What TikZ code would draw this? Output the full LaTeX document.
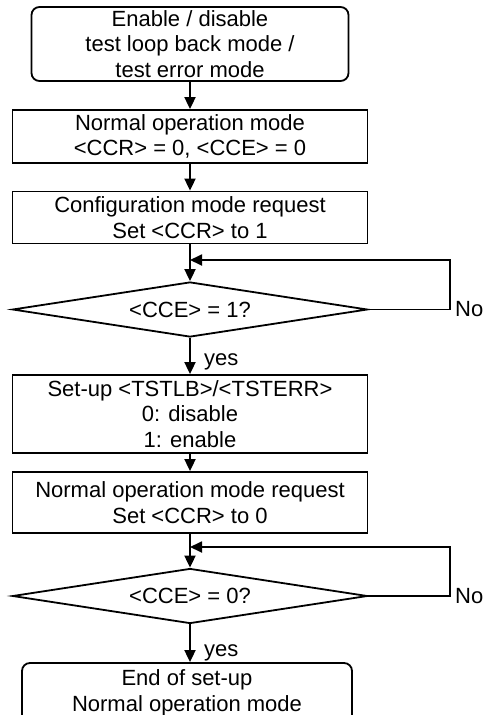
\documentclass[tikz,border=0pt]{standalone}
\usepackage{fontspec}
\setmainfont{Liberation Sans}
\usetikzlibrary{shapes.geometric,arrows.meta}
\begin{document}
\begin{tikzpicture}[x=1pt,y=-1pt,
  every node/.style={font=\fontsize{22}{25.5}\selectfont, align=center, inner sep=0pt},
  boxstyle/.style={draw, line width=1.8pt, minimum width=355pt},
  roundbox/.style={draw, line width=1.8pt, rounded corners=8pt},
  decision/.style={draw, line width=1.8pt, diamond, aspect=6.45, minimum width=355pt, minimum height=55pt},
  flow/.style={line width=1.8pt, -{Triangle[length=12pt,width=11pt]}}]
\useasboundingbox (0,0) rectangle (491,715);
\node[roundbox, minimum width=317pt, minimum height=74pt] (b1) at (190,44) {Enable / disable\\test loop back mode /\\test error mode};
\node[boxstyle, minimum height=53pt] (b2) at (190,136.5) {Normal operation mode\\<CCR> = 0, <CCE> = 0};
\node[boxstyle, minimum height=52pt] (b3) at (190,217.5) {Configuration mode request\\Set <CCR> to 1};
\node[decision] (d1) at (190,309.5) {<CCE> = 1?};
\node[boxstyle, minimum height=78pt] (b4) at (190,414) {Set-up <TSTLB>/<TSTERR>\\0: disable\\1: enable};
\node[boxstyle, minimum height=61pt] (b5) at (190,502.5) {Normal operation mode request\\Set <CCR> to 0};
\node[decision] (d2) at (190,596) {<CCE> = 0?};
\node[roundbox, minimum width=330pt, minimum height=60pt] (b6) at (187,693) {End of set-up\\Normal operation mode};
\coordinate (m1) at (190,260);
\coordinate (r1) at (450,260);
\coordinate (m2) at (190,547);
\coordinate (r2) at (450,547);
\node[anchor=west] (no1) at (455,309.5) {No};
\node[anchor=west] (no2) at (455,596) {No};
\node[anchor=west] (yes1) at (204,362) {yes};
\node[anchor=west] (yes2) at (204,653) {yes};
\draw[flow] (b1.south) -- (b2.north);
\draw[flow] (b2.south) -- (b3.north);
\draw[flow] (b3.south) -- (d1.north);
\draw[flow] (d1.south) -- (b4.north);
\draw[flow] (b4.south) -- (b5.north);
\draw[flow] (b5.south) -- (d2.north);
\draw[flow] (d2.south) -- (b6.north -| d2.south);
\draw[flow] (d1.east) -| (r1) -- (m1);
\draw[flow] (d2.east) -| (r2) -- (m2);
\end{tikzpicture}
\end{document}
